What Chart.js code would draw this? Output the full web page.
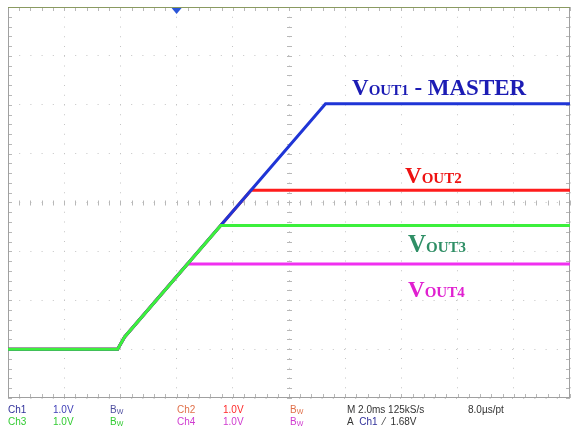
<!DOCTYPE html>
<html>
<head>
<meta charset="utf-8">
<script src="https://cdn.jsdelivr.net/npm/chart.js@4"></script>
<style>
  body { margin: 0; background: #fff; }
  #wrap { position: relative; width: 573px; height: 432px; overflow: hidden; }
  #wrap canvas { position: absolute; left: 0; top: 0; }
  .lbl { position: absolute; font-family: "Liberation Serif", serif; font-weight: bold; line-height: 1; white-space: nowrap; }
  .lbl small { font-size: 15px; }
  .st { position: absolute; font-family: "Liberation Sans", Arial, sans-serif; font-size: 10px; line-height: 1; white-space: nowrap; }
  .st sub { font-size: 7px; vertical-align: -1px; }
</style>
</head>
<body>
<div id="wrap">
  <canvas id="scope" width="573" height="432"></canvas>

  <div class="lbl" style="left:352px;top:76px;font-size:23px;color:#1c1cb4">V<small>OUT1</small> - MASTER</div>
  <div class="lbl" style="left:405px;top:164px;font-size:23px;color:#ee1111">V<small>OUT2</small></div>
  <div class="lbl" style="left:408px;top:231px;font-size:25px;color:#2f8f66">V<small>OUT3</small></div>
  <div class="lbl" style="left:408px;top:278px;font-size:23px;color:#e020d0">V<small>OUT4</small></div>

  <div class="st" style="left:8px;top:405px;color:#30309a">Ch1</div>
  <div class="st" style="left:53px;top:405px;color:#4040b8">1.0V</div>
  <div class="st" style="left:110px;top:405px;color:#5050a0">B<sub>W</sub></div>
  <div class="st" style="left:177px;top:405px;color:#e0704a">Ch2</div>
  <div class="st" style="left:223px;top:405px;color:#ff2a2a">1.0V</div>
  <div class="st" style="left:290px;top:405px;color:#e0704a">B<sub>W</sub></div>
  <div class="st" style="left:347px;top:405px;color:#333">M 2.0ms 125kS/s</div>
  <div class="st" style="left:468px;top:405px;color:#333">8.0µs/pt</div>

  <div class="st" style="left:8px;top:417px;color:#33cc33">Ch3</div>
  <div class="st" style="left:53px;top:417px;color:#33cc33">1.0V</div>
  <div class="st" style="left:110px;top:417px;color:#33cc33">B<sub>W</sub></div>
  <div class="st" style="left:177px;top:417px;color:#d03cd0">Ch4</div>
  <div class="st" style="left:223px;top:417px;color:#d03cd0">1.0V</div>
  <div class="st" style="left:290px;top:417px;color:#d03cd0">B<sub>W</sub></div>
  <div class="st" style="left:347px;top:417px;color:#333">A&nbsp;&nbsp;<span style="color:#30309a">Ch1</span>&nbsp;&nbsp;⁄&nbsp;&nbsp;1.68V</div>
</div>

<script>
// time in ms (2.0ms/div, 10 div), level in divisions (1.0V/div)
let timeMs = [0, 3.9, 4.15, 11.3, 20]
let vout1 = [-3.0, -3.0, -2.75, 2.02, 2.02]

let time2 = [0, 3.9, 4.15, 8.65, 20]
let vout2 = [-3.0, -3.0, -2.75, 0.25, 0.25]

let time3 = [0, 3.9, 4.15, 7.57, 20]
let vout3 = [-3.0, -3.0, -2.75, -0.47, -0.47]

let time4 = [0, 3.9, 4.15, 6.38, 20]
let vout4 = [-3.0, -3.0, -2.75, -1.26, -1.26]

let xMin = 0, xMax = 20, xStep = 2
let yMin = -4, yMax = 4, yStep = 1

let pts = (xs, ys) => xs.map((x, i) => ({x: x, y: ys[i]}))

// frame, centre cross and the little graticule ticks
let graticule = {
  id: "graticule",
  beforeDatasetsDraw(chart) {
    let ctx = chart.ctx
    let a = chart.chartArea
    let xs = chart.scales.x, ys = chart.scales.y
    let cx = xs.getPixelForValue(10), cy = ys.getPixelForValue(0)
    ctx.save()
    ctx.strokeStyle = "#b8b8b8"
    ctx.lineWidth = 1
    ctx.beginPath()
    for (let v = xMin; v <= xMax + 0.001; v += 0.4) {
      let px = Math.round(xs.getPixelForValue(v)) + 0.5
      ctx.moveTo(px, cy - 2); ctx.lineTo(px, cy + 3)
      ctx.moveTo(px, a.top); ctx.lineTo(px, a.top + 4)
      ctx.moveTo(px, a.bottom); ctx.lineTo(px, a.bottom - 4)
    }
    for (let v = yMin; v <= yMax + 0.001; v += 0.2) {
      let py = Math.round(ys.getPixelForValue(v)) + 0.5
      ctx.moveTo(cx - 2, py); ctx.lineTo(cx + 3, py)
      ctx.moveTo(a.left, py); ctx.lineTo(a.left + 4, py)
      ctx.moveTo(a.right, py); ctx.lineTo(a.right - 4, py)
    }
    ctx.stroke()
    ctx.strokeStyle = "#a0a0a0"
    ctx.strokeRect(a.left + 0.5, a.top + 0.5, a.right - a.left - 1, a.bottom - a.top - 1)
    ctx.strokeStyle = "#8a9a60"
    ctx.beginPath(); ctx.moveTo(a.left, a.top + 0.5); ctx.lineTo(a.right, a.top + 0.5); ctx.stroke()
    // trigger position marker
    let tx = xs.getPixelForValue(6)
    ctx.fillStyle = "#2a55d8"
    ctx.beginPath()
    ctx.moveTo(tx - 5, a.top + 1); ctx.lineTo(tx + 5, a.top + 1); ctx.lineTo(tx, a.top + 7)
    ctx.closePath(); ctx.fill()
    ctx.restore()
  }
}

let ctx = document.getElementById("scope")
let scope = new Chart(ctx, {
  type: "line",
  data: {
    datasets: [
      { label: "VOUT3", data: pts(time3, vout3), borderColor: "#3cf03c", order: 1 },
      { label: "VOUT1", data: pts(timeMs, vout1), borderColor: "#1f35d6", order: 2 },
      { label: "VOUT2", data: pts(time2, vout2), borderColor: "#ff1c1c", order: 3 },
      { label: "VOUT4", data: pts(time4, vout4), borderColor: "#f030f0", order: 4 }
    ]
  },
  options: {
    responsive: false,
    animation: false,
    events: [],
    layout: { padding: { left: 8, right: 3, top: 7, bottom: 34 } },
    elements: {
      line: { borderWidth: 3, tension: 0 },
      point: { radius: 0 }
    },
    plugins: { legend: { display: false }, tooltip: { enabled: false } },
    scales: {
      x: {
        type: "linear", min: xMin, max: xMax,
        ticks: { display: false, stepSize: xStep },
        border: { display: false },
        grid: { color: "#c4c4c4", drawTicks: false, lineWidth: 1 },
        afterFit: (s) => { s.height = 0 }
      },
      y: {
        type: "linear", min: yMin, max: yMax,
        ticks: { display: false, stepSize: yStep },
        border: { display: false },
        grid: { color: "#c4c4c4", drawTicks: false, lineWidth: 1 },
        afterFit: (s) => { s.width = 0 }
      }
    }
  },
  plugins: [graticule]
})

// graticule grid is dotted, one dot per minor division
scope.options.scales.x.border.dash = [1, 8.75]
scope.options.scales.y.border.dash = [1, 10.2]
scope.update()
</script>
</body>
</html>
